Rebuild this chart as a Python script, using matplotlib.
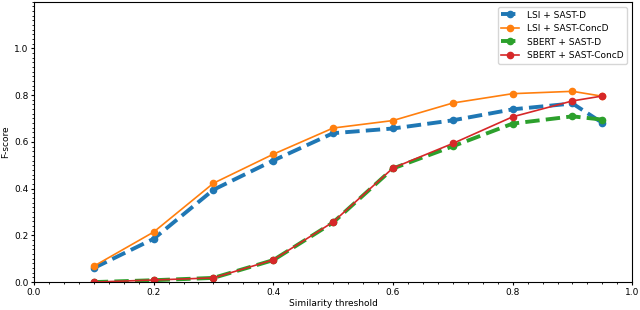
import matplotlib
matplotlib.use("Agg")
import matplotlib.pyplot as plt
from matplotlib.ticker import MultipleLocator

thresholds = [0.1, 0.2, 0.3, 0.4, 0.5, 0.6, 0.7, 0.8, 0.9, 0.95]
lsi_d = [0.060, 0.185, 0.395, 0.520, 0.637, 0.657, 0.692, 0.739, 0.764, 0.681]
lsi_concd = [0.068, 0.214, 0.423, 0.547, 0.659, 0.691, 0.766, 0.806, 0.816, 0.795]
sbert_d = [0.000, 0.008, 0.018, 0.094, 0.255, 0.486, 0.581, 0.678, 0.709, 0.695]
sbert_concd = [0.000, 0.009, 0.018, 0.095, 0.257, 0.488, 0.593, 0.707, 0.775, 0.796]
labels = ["LSI + SAST-D", "LSI + SAST-ConcD", "SBERT + SAST-D", "SBERT + SAST-ConcD"]

fig = plt.figure(figsize=(6.4, 3.1), dpi=100)
ax = fig.add_axes([0.053, 0.09, 0.935, 0.905])

ax.plot(thresholds, lsi_d, color="#1f77b4", ls="--", lw=2.8, marker="o", ms=4.5, label=labels[0])
ax.plot(thresholds, lsi_concd, color="#ff7f0e", ls="-", lw=1.2, marker="o", ms=4.5, label=labels[1])
ax.plot(thresholds, sbert_d, color="#2ca02c", ls="--", lw=2.8, marker="o", ms=4.5, label=labels[2])
ax.plot(thresholds, sbert_concd, color="#d62728", ls="-", lw=1.2, marker="o", ms=4.5, label=labels[3])

ax.set_xlim(0, 1.0)
ax.set_ylim(0, 1.2)
ax.set_yticks([0.0, 0.2, 0.4, 0.6, 0.8, 1.0])
ax.xaxis.set_major_locator(MultipleLocator(0.2))
ax.xaxis.set_minor_locator(MultipleLocator(0.025))
ax.yaxis.set_minor_locator(MultipleLocator(0.02))
ax.tick_params(labelsize=6.5, length=2.5, pad=1.5)
ax.tick_params(which="minor", length=1.5)
ax.set_xlabel("Similarity threshold", fontsize=6.5, labelpad=2)
ax.set_ylabel("F-score", fontsize=6.5, labelpad=3)
ax.legend(loc="upper right", fontsize=6.5, handlelength=2, borderaxespad=0.6)

fig.savefig("out.png", dpi=100)
